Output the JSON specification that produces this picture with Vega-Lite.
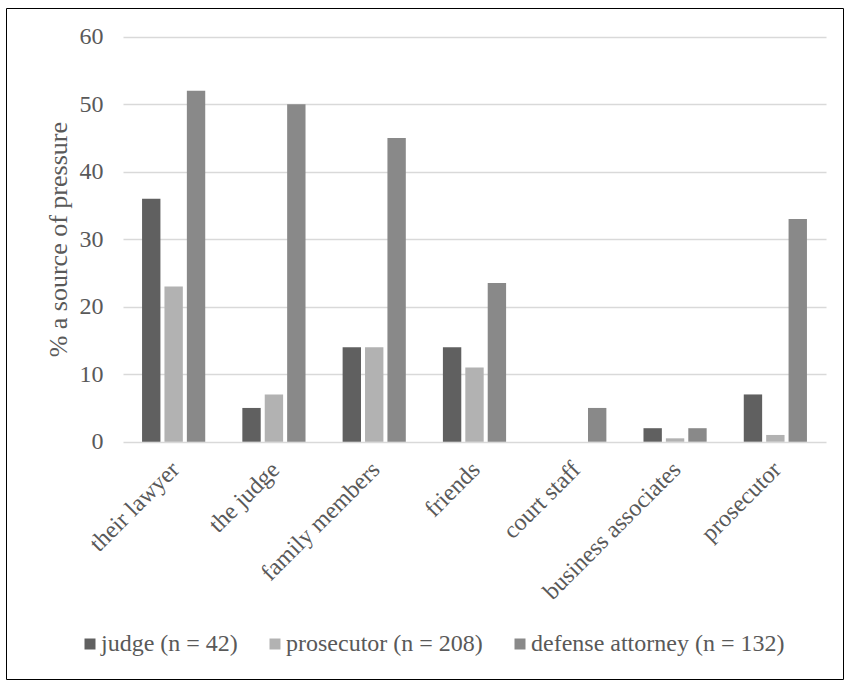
{
  "$schema": "https://vega.github.io/schema/vega-lite/v6.json",
  "width": 837,
  "height": 671,
  "autosize": {"type": "none"},
  "padding": {"left": 6, "top": 8, "right": 1, "bottom": 2},
  "background": "white",
  "config": {
    "view": {"stroke": "#000000", "strokeWidth": 1},
    "font": "'Liberation Serif', 'Times New Roman', Times, serif"
  },
  "data": {
    "values": [
      {"source": "their lawyer", "group": "judge (n = 42)", "pct": 36},
      {"source": "their lawyer", "group": "prosecutor (n = 208)", "pct": 23},
      {"source": "their lawyer", "group": "defense attorney (n = 132)", "pct": 52},
      {"source": "the judge", "group": "judge (n = 42)", "pct": 5},
      {"source": "the judge", "group": "prosecutor (n = 208)", "pct": 7},
      {"source": "the judge", "group": "defense attorney (n = 132)", "pct": 50},
      {"source": "family members", "group": "judge (n = 42)", "pct": 14},
      {"source": "family members", "group": "prosecutor (n = 208)", "pct": 14},
      {"source": "family members", "group": "defense attorney (n = 132)", "pct": 45},
      {"source": "friends", "group": "judge (n = 42)", "pct": 14},
      {"source": "friends", "group": "prosecutor (n = 208)", "pct": 11},
      {"source": "friends", "group": "defense attorney (n = 132)", "pct": 23.5},
      {"source": "court staff", "group": "judge (n = 42)", "pct": 0},
      {"source": "court staff", "group": "prosecutor (n = 208)", "pct": 0},
      {"source": "court staff", "group": "defense attorney (n = 132)", "pct": 5},
      {"source": "business associates", "group": "judge (n = 42)", "pct": 2},
      {"source": "business associates", "group": "prosecutor (n = 208)", "pct": 0.5},
      {"source": "business associates", "group": "defense attorney (n = 132)", "pct": 2},
      {"source": "prosecutor", "group": "judge (n = 42)", "pct": 7},
      {"source": "prosecutor", "group": "prosecutor (n = 208)", "pct": 1},
      {"source": "prosecutor", "group": "defense attorney (n = 132)", "pct": 33}
    ]
  },
  "mark": {"type": "bar"},
  "encoding": {
    "x": {
      "field": "source",
      "type": "nominal",
      "sort": ["their lawyer", "the judge", "family members", "friends", "court staff", "business associates", "prosecutor"],
      "scale": {"range": [117, 820], "paddingInner": 0.37, "paddingOuter": 0.19},
      "axis": {
        "title": null,
        "offset": -237.3,
        "domain": false,
        "ticks": false,
        "labelAngle": -45,
        "labelAlign": "right",
        "labelBaseline": "middle",
        "labelPadding": 24,
        "labelOffset": 2,
        "labelLimit": 400,
        "labelFont": "'Liberation Serif', 'Times New Roman', Times, serif",
        "labelFontSize": 24,
        "labelColor": "#595959"
      }
    },
    "xOffset": {
      "field": "group",
      "type": "nominal",
      "sort": ["judge (n = 42)", "prosecutor (n = 208)", "defense attorney (n = 132)"],
      "scale": {"paddingInner": 0.18, "paddingOuter": 0}
    },
    "y": {
      "field": "pct",
      "type": "quantitative",
      "scale": {"domain": [0, 60], "range": [433.7, 28.7], "nice": false},
      "axis": {
        "title": "% a source of pressure",
        "values": [0, 10, 20, 30, 40, 50, 60],
        "offset": -117,
        "domain": false,
        "ticks": false,
        "grid": true,
        "gridColor": "#d9d9d9",
        "gridWidth": 1.5,
        "labelPadding": 20,
        "labelFont": "'Liberation Serif', 'Times New Roman', Times, serif",
        "labelFontSize": 24,
        "labelColor": "#595959",
        "titleFont": "'Liberation Serif', 'Times New Roman', Times, serif",
        "titleFontSize": 26,
        "titleFontWeight": "normal",
        "titleColor": "#595959",
        "titlePadding": 8
      }
    },
    "color": {
      "field": "group",
      "type": "nominal",
      "sort": ["judge (n = 42)", "prosecutor (n = 208)", "defense attorney (n = 132)"],
      "scale": {
        "domain": ["judge (n = 42)", "prosecutor (n = 208)", "defense attorney (n = 132)"],
        "range": ["#606060", "#b2b2b2", "#898989"]
      },
      "legend": {
        "title": null,
        "orient": "none",
        "legendX": 72,
        "legendY": 624,
        "padding": 0,
        "direction": "horizontal",
        "symbolType": "square",
        "symbolSize": 121,
        "symbolStrokeWidth": 0,
        "labelFont": "'Liberation Serif', 'Times New Roman', Times, serif",
        "labelFontSize": 24,
        "labelColor": "#595959",
        "labelOffset": -1,
        "columnPadding": 25,
        "labelLimit": 400
      }
    }
  }
}
